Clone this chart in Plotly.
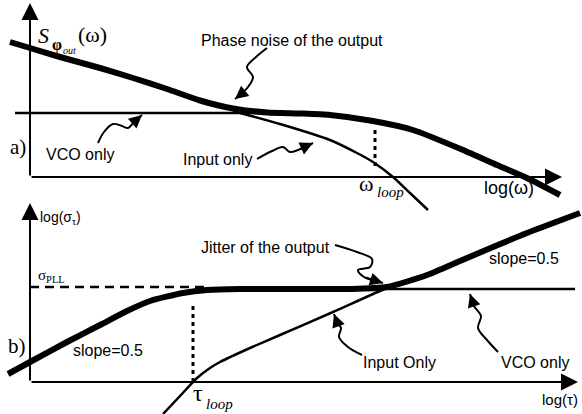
import plotly.graph_objects as go

# ---- panel a) phase noise spectrum, log-frequency units ----
a_out_x = [-0.40, 0.00, 0.60, 1.40, 2.06, 2.74, 3.40, 4.06, 4.74, 5.40, 6.00, 6.86, 7.66, 8.66, 9.34, 9.94, 10.60]
a_out_y = [2.70, 2.58, 2.40, 2.18, 1.98, 1.76, 1.53, 1.37, 1.29, 1.27, 1.24, 1.12, 0.94, 0.54, 0.24, -0.02, -0.36]
a_in_x = [4.06, 5.00, 6.00, 6.54, 6.86, 7.26, 7.60, 7.96]
a_in_y = [1.32, 1.06, 0.74, 0.48, 0.30, 0.00, -0.32, -0.66]
a_vco_x = [-0.30, 5.40]
a_vco_y = [1.28, 1.28]
w_loop = 6.90
w_loop_span = [0.22, 0.96]
a_axis_end = [10.64, 3.48]

# ---- panel b) jitter vs. observation interval, log units ----
b_out_x = [-0.44, 0.00, 0.74, 1.40, 1.94, 2.40, 3.06, 3.54, 4.20, 5.40, 6.40, 7.14, 7.94, 8.60, 9.26, 9.94, 11.00]
b_out_y = [0.16, 0.40, 0.80, 1.14, 1.42, 1.62, 1.78, 1.84, 1.86, 1.86, 1.86, 1.90, 2.14, 2.42, 2.70, 2.98, 3.38]
b_in_x = [2.66, 3.00, 3.34, 3.60, 3.80, 4.40, 5.00, 6.06, 7.14, 7.80]
b_in_y = [-0.64, -0.28, 0.08, 0.28, 0.40, 0.68, 0.94, 1.40, 1.88, 2.12]
b_vco_x = [3.40, 10.90]
b_vco_y = [1.86, 1.86]
sigma_pll = 1.90
sigma_pll_span = [0.0, 3.50]
tau_loop = 3.26
tau_loop_span = [0.0, 1.58]
b_axis_end = [10.96, 3.58]

# ---- curly leader lines on the canvas layer (last point = arrow tip) ----
leaders = [
    [(267, 48), (256, 57), (247, 67), (253, 77), (248, 87), (240, 95), (235, 99)],
    [(98, 143), (104, 132), (113, 124), (122, 126), (128, 128), (134, 122), (142, 115)],
    [(257, 159), (272, 151), (283, 147), (290, 152), (298, 150), (313, 143)],
    [(335, 245), (357, 252), (372, 259), (370, 267), (358, 270), (364, 277), (383, 283)],
    [(362, 355), (348, 347), (339, 337), (341, 328), (337, 322), (334, 314)],
    [(498, 352), (487, 340), (478, 328), (481, 316), (474, 306), (470, 294)],
]

BLACK = "#000000"
SANS = "Liberation Sans, Arial, sans-serif"
SERIF = "Liberation Serif, Times New Roman, serif"

fig = go.Figure()

def line(x, y, yaxis, width, dash="solid", shape="spline"):
    fig.add_trace(go.Scatter(
        x=x, y=y, xaxis="x", yaxis=yaxis, mode="lines",
        line=dict(color=BLACK, width=width, dash=dash, shape=shape, smoothing=0.6),
        hoverinfo="skip", showlegend=False))

# panel a curves
line(a_vco_x, a_vco_y, "y", 2.5, shape="linear")
line(a_in_x, a_in_y, "y", 2.5)
line(a_out_x, a_out_y, "y", 6)
line([w_loop, w_loop], w_loop_span, "y", 3, dash="4px,4px", shape="linear")

# panel b curves
line(sigma_pll_span, [sigma_pll, sigma_pll], "y2", 2.5, dash="9px,6px", shape="linear")
line(b_vco_x, b_vco_y, "y2", 2.5, shape="linear")
line(b_in_x, b_in_y, "y2", 2.5)
line(b_out_x, b_out_y, "y2", 6)
line([tau_loop, tau_loop], tau_loop_span, "y2", 3, dash="4px,4px", shape="linear")

annotations = []

# axes with arrowheads
def axis_arrow(x0, y0, x1, y1, yref):
    annotations.append(dict(
        x=x1, y=y1, ax=x0, ay=y0, xref="x", yref=yref, axref="x", ayref=yref,
        text="", showarrow=True, arrowhead=2, arrowsize=1.7, arrowwidth=2,
        arrowcolor=BLACK, standoff=0, startstandoff=0))

axis_arrow(0, 0, a_axis_end[0], 0, "y")
axis_arrow(0, 0, 0, a_axis_end[1], "y")
axis_arrow(0, 0, b_axis_end[0], 0, "y2")
axis_arrow(0, 0, 0, b_axis_end[1], "y2")

# leaders
for pts in leaders:
    xs = [p[0] for p in pts]
    ys = [p[1] for p in pts]
    fig.add_trace(go.Scatter(
        x=xs, y=ys, xaxis="x3", yaxis="y3", mode="lines",
        line=dict(color=BLACK, width=2, shape="spline", smoothing=1.0),
        hoverinfo="skip", showlegend=False))
    annotations.append(dict(
        x=xs[-1], y=ys[-1], ax=xs[-2], ay=ys[-2], xref="x3", yref="y3",
        axref="x3", ayref="y3", text="", showarrow=True, arrowhead=2,
        arrowsize=1.3, arrowwidth=2, arrowcolor=BLACK, standoff=0))

def label(x, y, text, size, family=SANS, anchor="left"):
    annotations.append(dict(
        x=x, y=y, xref="x3", yref="y3", text=text, showarrow=False,
        xanchor=anchor, yanchor="middle",
        font=dict(family=family, size=size, color=BLACK)))

# panel a labels
label(36, 35, "<i>S</i>", 22, SERIF)
label(50, 45, "<b>φ</b>", 16, SERIF)
label(61, 50, "<i>out</i>", 10, SERIF)
label(76, 34, "(ω)", 22, SERIF)
label(199, 40, "Phase noise of the output", 16)
label(8, 147, "a)", 21, SERIF)
label(44, 154, "VCO only", 16)
label(181, 159, "Input only", 16)
label(357, 183, "ω", 22, SERIF)
label(375, 192, "<i>loop</i>", 15, SERIF)
label(482, 188, "log(ω)", 18)

# panel b labels
label(38, 218, "log(σ<sub>τ</sub>)", 14)
label(36, 276, "σ<sub>PLL</sub>", 15, SERIF)
label(6, 346, "b)", 21, SERIF)
label(71, 350, "slope=0.5", 16)
label(199, 247, "Jitter of the output", 16)
label(487, 258, "slope=0.5", 16)
label(361, 362, "Input Only", 16)
label(499, 362, "VCO only", 16)
label(191, 393, "τ", 24, SERIF)
label(204, 404, "<i>loop</i>", 15, SERIF)
label(540, 399, "log(τ)", 15)

hidden = dict(visible=False, showgrid=False, zeroline=False, fixedrange=True)
fig.update_layout(
    width=582, height=414,
    margin=dict(l=0, r=0, t=0, b=0),
    paper_bgcolor="white", plot_bgcolor="white",
    showlegend=False,
    xaxis=dict(range=[-0.6, 11.04], domain=[0, 1], anchor="y", **hidden),
    yaxis=dict(range=[-4.74, 3.54], domain=[0, 1], anchor="x", **hidden),
    yaxis2=dict(range=[-0.64, 7.64], overlaying="y", anchor="x", **hidden),
    xaxis3=dict(range=[0, 582], overlaying="x", anchor="y3", **hidden),
    yaxis3=dict(range=[414, 0], overlaying="y", anchor="x3", **hidden),
    annotations=annotations,
)

fig.write_html("out.html")
